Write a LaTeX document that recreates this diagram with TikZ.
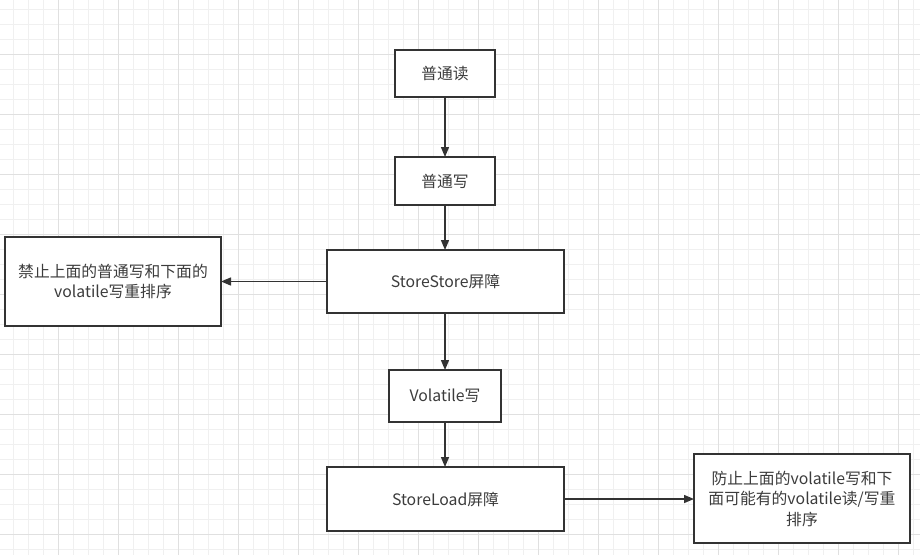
\documentclass[tikz,border=0pt]{standalone}
\usepackage{fontspec}
\setmainfont{Noto Sans CJK SC}
\usetikzlibrary{arrows.meta}

\definecolor{gridminor}{HTML}{F0F0F0}
\definecolor{gridmajor}{HTML}{E0E0E0}
\definecolor{linedark}{HTML}{333333}
\definecolor{textdark}{HTML}{3C3C3C}

\newcommand\flowfont{\fontsize{15.8}{20.5}\selectfont}

\tikzset{
  flowbox/.style={draw=linedark, line width=1.4pt, fill=white, text=textdark,
    inner sep=0pt, outer sep=0pt, align=center, font=\flowfont},
  flowarrow/.style={draw=linedark, line width=1.4pt,
    -{Triangle[length=10pt,width=8pt]}},
}

\begin{document}
\begin{tikzpicture}[x=1pt, y=-1pt]
    \useasboundingbox (0, 0) rectangle (920, 555) ;
    \fill[white] (0, 0) rectangle (920, 555) ;
    % grid
    \foreach \gx in {13, 28, ..., 920} {
      \draw[gridminor, line width=0.8pt] (\gx, 0) -- (\gx, 555) ;
    }
    \foreach \gy in {9, 24, ..., 555} {
      \draw[gridminor, line width=0.8pt] (0, \gy) -- (920, \gy) ;
    }
    \foreach \gx in {58, 118, ..., 920} {
      \draw[gridmajor, line width=0.8pt] (\gx, 0) -- (\gx, 555) ;
    }
    \foreach \gy in {54, 114, ..., 555} {
      \draw[gridmajor, line width=0.8pt] (0, \gy) -- (920, \gy) ;
    }
    % boxes
    \node[flowbox, minimum width=100, minimum height=47] (read) at (445, 73.5) {普通读} ;
    \node[flowbox, minimum width=100, minimum height=48] (write) at (445, 181) {普通写} ;
    \node[flowbox, minimum width=237, minimum height=63] (storestore) at (445.5, 281.5) {StoreStore屏障} ;
    \node[flowbox, minimum width=216, minimum height=89] (ssnote) at (113, 281.5)
      {禁止上面的普通写和下面的\\volatile写重排序} ;
    \node[flowbox, minimum width=112, minimum height=52] (volwrite) at (445, 396) {Volatile写} ;
    \node[flowbox, minimum width=237, minimum height=64] (storeload) at (445.5, 499) {StoreLoad屏障} ;
    \node[flowbox, minimum width=216, minimum height=89] (slnote) at (802, 498.5)
      {防止上面的volatile写和下\\面可能有的volatile读/写重\\排序} ;
    % arrows
    \draw[flowarrow] (read) -- (write) ;
    \draw[flowarrow] (write) -- (write |- storestore.north) ;
    \draw[flowarrow] (storestore) -- (ssnote) ;
    \draw[flowarrow] (storestore.south -| volwrite) -- (volwrite) ;
    \draw[flowarrow] (volwrite) -- (volwrite |- storeload.north) ;
    \draw[flowarrow] (storeload) -- (storeload -| slnote.west) ;
  \end{tikzpicture}
\end{document}
